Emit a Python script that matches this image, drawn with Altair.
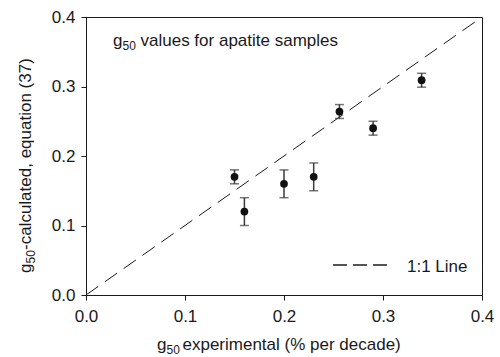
import altair as alt
import pandas as pd

# g50 values: experimental vs. calculated with equation (37)
g50_experimental = [0.150, 0.160, 0.200, 0.230, 0.256, 0.290, 0.339]
g50_calculated = [0.170, 0.120, 0.160, 0.170, 0.264, 0.240, 0.309]
g50_error = [0.010, 0.020, 0.020, 0.020, 0.010, 0.010, 0.010]

axis_ticks = [0.0, 0.1, 0.2, 0.3, 0.4]
identity_ends = [0.0, 0.4]

FONT = "Liberation Sans"
FS = 17
SUB = 12
INK = "#1a1a1a"

pts = pd.DataFrame({
    "exp": g50_experimental,
    "calc": g50_calculated,
    "lo": [c - e for c, e in zip(g50_calculated, g50_error)],
    "hi": [c + e for c, e in zip(g50_calculated, g50_error)],
})
diag = pd.DataFrame({"v": identity_ends})

xs = alt.Scale(domain=[0, 0.4], nice=False)
ys = alt.Scale(domain=[0, 0.4], nice=False)
xaxis = alt.Axis(values=axis_ticks, format=".1f", title=None, grid=False, labelFlush=False)
yaxis = alt.Axis(values=axis_ticks, format=".1f", title=None, grid=False, labelFlush=False)

base = alt.Chart(pts)

identity = alt.Chart(diag).mark_line(
    color=INK, strokeWidth=1, strokeDash=[15, 8], clip=True
).encode(
    x=alt.X("v:Q", scale=xs, axis=xaxis),
    y=alt.Y("v:Q", scale=ys, axis=yaxis),
)

bars = base.mark_rule(color="#3a3a3a", strokeWidth=1.5).encode(
    x=alt.X("exp:Q", scale=xs),
    y=alt.Y("lo:Q", scale=ys),
    y2="hi:Q",
)
cap_lo = base.mark_tick(color="#3a3a3a", orient="horizontal", size=9, thickness=1.5).encode(
    x=alt.X("exp:Q", scale=xs),
    y=alt.Y("lo:Q", scale=ys),
)
cap_hi = base.mark_tick(color="#3a3a3a", orient="horizontal", size=9, thickness=1.5).encode(
    x=alt.X("exp:Q", scale=xs),
    y=alt.Y("hi:Q", scale=ys),
)
dots = base.mark_point(filled=True, shape="circle", size=60, color="#111111", opacity=1).encode(
    x=alt.X("exp:Q", scale=xs),
    y=alt.Y("calc:Q", scale=ys),
)


def label(text, x, y, size=FS, angle=0):
    return alt.Chart(pd.DataFrame({"t": [text]})).mark_text(
        align="left", baseline="alphabetic", font=FONT, fontSize=size,
        color=INK, angle=angle,
    ).encode(x=alt.value(x), y=alt.value(y), text="t:N")


# legend for the identity line
legend_line = alt.Chart(diag).mark_rule(
    color=INK, strokeWidth=1, strokeDash=[14, 6]
).encode(x=alt.value(247), x2=alt.value(301), y=alt.value(248))
legend_text = label("1:1 Line", 321, 255)

# in-plot heading with subscript
head = [
    label("g", 27, 29),
    label("50", 36.5, 33, size=SUB),
    label("values for apatite samples", 54.5, 29),
]

# x axis title
xtitle = [
    label("g", 71, 333),
    label("50", 80.5, 337, size=SUB),
    label("experimental (% per decade)", 96.5, 333),
]

# y axis title, rotated
ytitle = [
    label("g", -55, 256, angle=270),
    label("50", -51, 246.5, size=SUB, angle=270),
    label("-calculated, equation (37)", -55, 233, angle=270),
]

chart = alt.layer(
    identity, bars, cap_lo, cap_hi, dots, legend_line, legend_text,
    *head, *xtitle, *ytitle,
).properties(
    width=396,
    height=278,
    autosize=alt.AutoSizeParams(type="none"),
    padding={"left": 86, "top": 17, "right": 18, "bottom": 62},
).configure_view(
    stroke=INK, strokeWidth=1,
).configure_axis(
    labelFont=FONT, labelFontSize=FS, labelColor=INK, labelFlush=False,
    domainColor=INK, tickColor=INK, tickSize=5, domainWidth=1, tickWidth=1,
).configure_axisX(
    labelPadding=8,
).configure_axisY(
    labelPadding=6,
)

chart.save("out.html", embed_options={"renderer": "svg", "actions": False})
